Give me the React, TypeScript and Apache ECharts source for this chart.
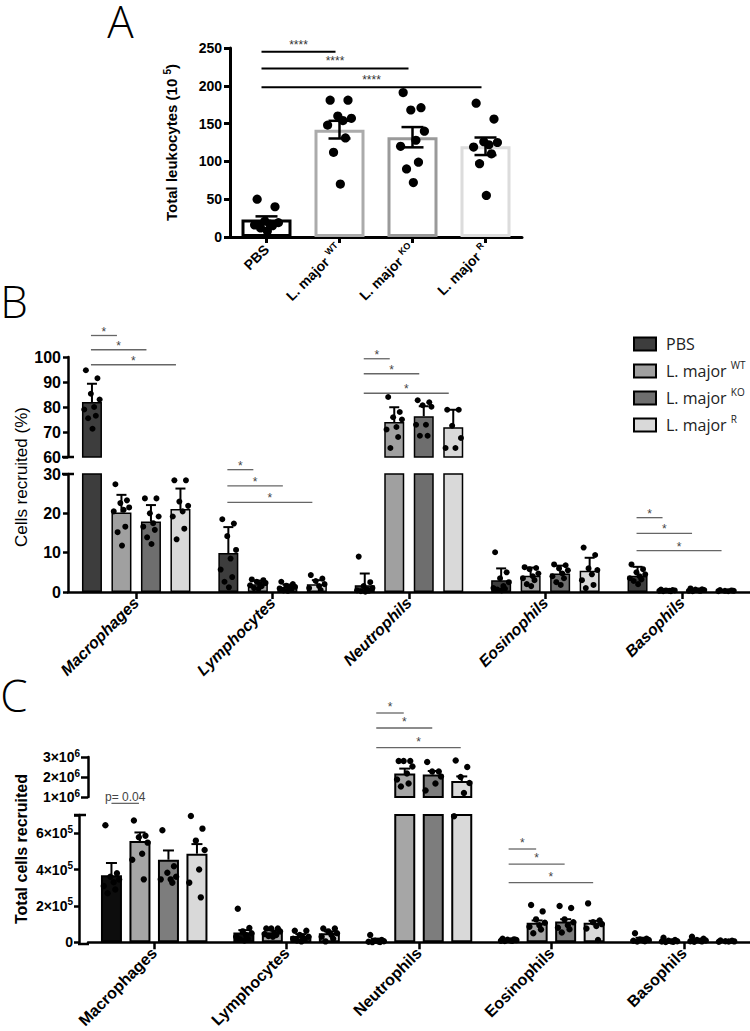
import React, { useEffect, useRef } from 'react';
import * as echarts from 'echarts';

// ---------------- Panel A ----------------
const A_CATS = ['PBS', 'L. major WT', 'L. major KO', 'L. major R'];
const A_MEAN = [23, 142, 132, 120];
const A_SEM = [4.3, 11.7, 13.4, 11.6];
const A_PTS_PBS = [50, 40, 21, 19, 17, 16, 15, 12, 8];
const A_PTS_WT = [181, 181, 160, 157, 154, 148, 131, 112, 70];
const A_PTS_KO = [191, 171, 168, 140, 128, 120, 99, 90, 72];
const A_PTS_R = [177, 156, 126, 125, 122, 119, 110, 97, 55];
const A_SIG_TO = [1, 2, 3];
const A_SIG_Y = [245, 223, 198];
const A_SIG_LABEL = ['****', '****', '****'];

// ---------------- Panel B ----------------
const CELL_TYPES = ['Macrophages', 'Lymphocytes', 'Neutrophils', 'Eosinophils', 'Basophils'];
const GROUPS = ['PBS', 'L. major WT', 'L. major KO', 'L. major R'];

const B_MEAN_PBS = [82, 9.9, 1.7, 3.0, 4.1];
const B_MEAN_WT = [20.2, 2.0, 74.0, 4.1, 0.4];
const B_MEAN_KO = [17.9, 1.3, 76.3, 4.7, 0.5];
const B_MEAN_R = [21.1, 2.0, 71.9, 5.4, 0.3];
const B_SD_PBS = [7.3, 6.6, 3.0, 3.0, 2.3];
const B_SD_WT = [4.5, 0.9, 5.9, 2.1, 0.2];
const B_SD_KO = [4.2, 0.6, 4.0, 2.0, 0.3];
const B_SD_R = [5.2, 1.0, 7.0, 3.3, 0.2];

const B_PTS_PBS = [
  [94.7, 91.5, 85.3, 83, 80, 79, 76.5, 75.5, 71.3],
  [18.5, 17.4, 14.2, 10.7, 8.5, 5.7, 3.8, 2.6, 1.2],
  [9.0, 2.5, 1.5, 1.0, 0.6, 0.4, 0.3, 0.2, 0.1],
  [10.1, 5.0, 3.5, 2.5, 1.5, 1.0, 0.8, 0.6, 0.4],
  [7.0, 5.8, 5.0, 4.5, 4.0, 3.5, 3.2, 2.8, 2.0],
];
const B_PTS_WT = [
  [27.4, 23.3, 22.6, 21.5, 20.9, 20.5, 16.6, 15.2, 11.8],
  [3.2, 3.0, 2.6, 2.3, 2.0, 1.7, 1.5, 1.0, 0.8],
  [84.0, 78.0, 75.9, 75.0, 72.0, 71.0, 68.0, 63.6],
  [6.3, 6.1, 5.8, 4.7, 4.0, 3.5, 3.0, 2.0, 1.5],
  [0.6, 0.5, 0.4, 0.4, 0.3, 0.3, 0.2, 0.2],
];
const B_PTS_KO = [
  [23.8, 23.8, 20.0, 19.2, 17.5, 16.6, 15.8, 13.9, 12.2],
  [2.6, 2.0, 1.6, 1.3, 1.1, 0.9, 0.6, 0.4, 0.3],
  [82.7, 81.9, 80.7, 80.1, 72.9, 72.9, 68.5, 68.5],
  [7.0, 6.8, 6.0, 5.5, 4.7, 4.0, 3.5, 2.5, 1.8],
  [0.9, 0.7, 0.6, 0.5, 0.4, 0.3, 0.3, 0.2],
];
const B_PTS_R = [
  [28.4, 28.4, 23.0, 21.9, 20.5, 19.2, 16.1, 13.4],
  [4.3, 3.4, 2.8, 2.0, 1.5, 1.0, 0.5],
  [78.9, 78.9, 72.5, 67.6, 63.6, 63.6],
  [11.3, 9.4, 6.0, 5.6, 4.5, 3.0, 1.8, 1.0],
  [0.5, 0.4, 0.3, 0.3, 0.2, 0.2],
];
// significance brackets: category, compared group, height, segment (1 = upper)
const B_SIG_CAT = [0, 0, 0, 1, 1, 1, 2, 2, 2, 4, 4, 4];
const B_SIG_TO = [1, 2, 3, 1, 2, 3, 1, 2, 3, 1, 2, 3];
const B_SIG_Y = [108.6, 102.9, 96.9, 31.1, 27.0, 22.8, 99.3, 93.3, 85.5, 18.9, 14.9, 10.5];
const B_SIG_SEG = [1, 1, 1, 0, 0, 0, 1, 1, 1, 0, 0, 0];

// ---------------- Panel C ----------------
const C_MEAN_PBS = [368000, 54000, 10000, 12000, 15000];
const C_MEAN_WT = [557000, 55000, 2170000, 108000, 8000];
const C_MEAN_KO = [454000, 35000, 2130000, 115000, 10000];
const C_MEAN_R = [487000, 50000, 1800000, 108000, 5000];
const C_SD_PBS = [68000, 13000, 10000, 5000, 10000];
const C_SD_WT = [47000, 10000, 250000, 12000, 5000];
const C_SD_KO = [51000, 10000, 170000, 12000, 6000];
const C_SD_R = [53000, 10000, 230000, 10000, 3000];

const C_PTS_PBS = [
  [644000, 380000, 360000, 345000, 330000, 310000, 290000, 270000],
  [184000, 79000, 60000, 50000, 40000, 30000, 20000, 15000, 10000],
  [40000, 12000, 8000, 6000, 4000, 3000, 2000, 1000],
  [20000, 16000, 14000, 12000, 10000, 9000, 8000, 7000],
  [50000, 20000, 15000, 12000, 10000, 8000, 6000, 4000],
];
const C_PTS_WT = [
  [670000, 586000, 578000, 548000, 487000, 454000, 346000],
  [76000, 76000, 76000, 60000, 50000, 45000, 40000, 35000, 30000],
  [2800000, 2800000, 2800000, 2530000, 2170000, 1870000, 1670000, 1530000],
  [205000, 170000, 126000, 108000, 94000, 85000, 70000, 50000],
  [25000, 12000, 8000, 6000, 5000, 4000, 3000, 2000],
];
const C_PTS_KO = [
  [616000, 418000, 382000, 360000, 346000, 346000, 328000],
  [63000, 63000, 40000, 30000, 25000, 20000, 15000, 10000, 5000],
  [2750000, 2280000, 2280000, 2030000, 1670000, 1330000],
  [200000, 189000, 126000, 110000, 94000, 80000, 72000, 54000],
  [30000, 20000, 12000, 10000, 8000, 6000, 5000, 3000],
];
const C_PTS_R = [
  [694000, 625000, 559000, 508000, 400000, 328000, 247000],
  [76000, 76000, 60000, 50000, 40000, 30000, 20000, 5000],
  [2830000, 2500000, 2000000, 1700000, 1200000, 693000],
  [214000, 120000, 110000, 100000, 90000, 76000, 13000],
  [10000, 8000, 6000, 5000, 4000, 3000],
];
const C_SIG_CAT = [0, 2, 2, 2, 3, 3, 3];
const C_SIG_TO = [1, 1, 2, 3, 1, 2, 3];
const C_SIG_Y = [764000, 5200000, 4450000, 3470000, 513000, 430000, 328000];
const C_SIG_SEG = [0, 1, 1, 1, 0, 0, 0];
const C_SIG_LABEL = ['p= 0.04', '*', '*', '*', '*', '*', '*'];

// ---------------- styles ----------------
const FONT = "'Liberation Sans', Arial, Helvetica, sans-serif";
const LETTER_FONT = "'Open Sans', 'DejaVu Sans', sans-serif";
const A_BORDER = ['#000000', '#ababab', '#9a9a9a', '#dcdcdc'];
const B_FILL = ['#3d3d3d', '#a0a0a0', '#6e6e6e', '#d9d9d9'];
const C_FILL = ['#0d0d0d', '#a6a6a6', '#7d7d7d', '#d9d9d9'];
const JITTER = [-0.55, 0.5, -0.1, 0.7, 0.2, -0.7, 0.35, -0.35, 0.05];
const B_BAR_W = 20;
const B_STEP = 29.5;
const C_BAR_W = 21;
const C_STEP = 28.5;

const gOff = (g: number, step: number) => (g - 1.5) * step;

function supFmt(name: string, base: string, sup: string) {
  const m = name.match(/^(L\. major) (\S+)$/);
  return m ? `{${base}|${m[1]} }{${sup}|${m[2]}}` : `{${base}|${name}}`;
}

function pointSeries(name: string, xi: number, yi: number, pts: number[][], lo: number, hi: number, dx: number, spread: number, r: number) {
  const data: number[][] = [];
  pts.forEach((arr, ci) => arr.forEach((v, k) => { if (v >= lo && v <= hi) data.push([ci, v, k]); }));
  return {
    type: 'custom', name, xAxisIndex: xi, yAxisIndex: yi, clip: false, z: 4, silent: true,
    data,
    renderItem: (params: any, api: any) => {
      const c = api.coord([api.value(0), api.value(1)]);
      const k = api.value(2) as number;
      return {
        type: 'circle',
        shape: { cx: c[0] + dx + JITTER[k % JITTER.length] * spread, cy: c[1], r },
        style: { fill: '#000' },
      };
    },
  };
}

function errSeries(name: string, xi: number, yi: number, means: number[], errs: number[], lo: number, hi: number, dx: number, capW: number, lw: number, both: boolean) {
  const data: number[][] = [];
  means.forEach((m, ci) => { if (m >= lo && m <= hi) data.push([ci, m, errs[ci]]); });
  return {
    type: 'custom', name, xAxisIndex: xi, yAxisIndex: yi, clip: false, z: 3, silent: true,
    data,
    renderItem: (params: any, api: any) => {
      const m = api.value(1) as number;
      const e = api.value(2) as number;
      const top = api.coord([api.value(0), m + e]);
      const bot = api.coord([api.value(0), both ? m - e : m]);
      const x = top[0] + dx;
      const st = { stroke: '#000', lineWidth: lw };
      const children: any[] = [
        { type: 'line', shape: { x1: x, y1: top[1], x2: x, y2: bot[1] }, style: st },
        { type: 'line', shape: { x1: x - capW / 2, y1: top[1], x2: x + capW / 2, y2: top[1] }, style: st },
      ];
      if (both) children.push({ type: 'line', shape: { x1: x - capW / 2, y1: bot[1], x2: x + capW / 2, y2: bot[1] }, style: st });
      return { type: 'group', children };
    },
  };
}

type SigItem = { c1: number; g1: number; c2: number; g2: number; y: number; label: string };

function sigSeries(name: string, xi: number, yi: number, items: SigItem[], o: any) {
  return {
    type: 'custom', name, xAxisIndex: xi, yAxisIndex: yi, clip: false, z: 6, silent: true,
    data: items.map((it) => [it.c1, it.y]),
    renderItem: (params: any, api: any) => {
      const it = items[params.dataIndex];
      const p1 = api.coord([it.c1, it.y]);
      const p2 = api.coord([it.c2, it.y]);
      const x1 = p1[0] + (it.g1 - (o.nG - 1) / 2) * o.step + o.dx1;
      const x2 = p2[0] + (it.g2 - (o.nG - 1) / 2) * o.step + o.dx2;
      return {
        type: 'group',
        children: [
          { type: 'line', shape: { x1, y1: p1[1], x2, y2: p1[1] }, style: { stroke: o.lineColor, lineWidth: o.lineW } },
          {
            type: 'text', x: (x1 + x2) / 2, y: p1[1] - o.textDy,
            style: { text: it.label, align: 'center', verticalAlign: 'middle', fontSize: o.fontSize, fontFamily: FONT, fill: o.textColor },
          },
        ],
      };
    },
  };
}

function valueAxis(gridIndex: number, min: number, max: number, interval: number, extra: any = {}) {
  return {
    gridIndex, type: 'value', min, max, interval,
    axisLine: { show: true, lineStyle: { color: '#000', width: 2.5 } },
    axisTick: { show: true, length: 5, lineStyle: { color: '#000', width: 2.5 } },
    splitLine: { show: false },
    axisLabel: { color: '#000', fontFamily: FONT, fontWeight: 'bold', fontSize: 16, margin: 7 },
    ...extra,
  };
}

function catAxis(gridIndex: number, data: string[], show: boolean, labelExtra: any = {}) {
  return {
    gridIndex, type: 'category', data, show,
    axisLine: { show, onZero: false, lineStyle: { color: '#000', width: 2.5 } },
    axisTick: { show, alignWithLabel: true, length: 7, lineStyle: { color: '#000', width: 2.5 } },
    splitLine: { show: false },
    axisLabel: { show, interval: 0, rotate: 45, color: '#000', fontFamily: FONT, fontWeight: 'bold', fontSize: 16, margin: 8, ...labelExtra },
  };
}

function cFmt(lowerOnly: boolean) {
  return (v: number) => {
    if (v === 0) return '{m|0}';
    if (lowerOnly && v % 200000 !== 0) return '';
    const e = Math.floor(Math.log10(v) + 1e-9);
    const mant = v / Math.pow(10, e);
    if (Math.abs(mant - Math.round(mant)) > 1e-6) return '';
    return `{m|${Math.round(mant)}×10}{s|${e}}`;
  };
}

const C_RICH = {
  m: { fontFamily: FONT, fontWeight: 'bold', fontSize: 14, color: '#000', lineHeight: 18 },
  s: { fontFamily: FONT, fontWeight: 'bold', fontSize: 10, color: '#000', lineHeight: 9, verticalAlign: 'top' },
};

function buildOption() {
  const series: any[] = [];

  // ---- A ----
  series.push({
    type: 'bar', name: 'A-bars', xAxisIndex: 0, yAxisIndex: 0, barWidth: 50, z: 2, silent: true,
    data: A_MEAN.map((v, i) => ({ value: v, itemStyle: { color: '#fff', borderColor: A_BORDER[i], borderWidth: 3 } })),
  });
  series.push(errSeries('A-err', 0, 0, A_MEAN, A_SEM, -Infinity, Infinity, 0, 22, 2.5, true));
  series.push(pointSeries('A-pts', 0, 0, [A_PTS_PBS, A_PTS_WT, A_PTS_KO, A_PTS_R], -Infinity, Infinity, 0, 17, 4.6));
  series.push(sigSeries('A-sig', 0, 0,
    A_SIG_TO.map((to, i) => ({ c1: 0, g1: 0, c2: to, g2: 0, y: A_SIG_Y[i], label: A_SIG_LABEL[i] })),
    { nG: 1, step: 0, dx1: -5, dx2: -4, lineColor: '#000', lineW: 2, textDy: 7, fontSize: 12, textColor: '#333' }));

  // ---- B ----
  const bMeans = [B_MEAN_PBS, B_MEAN_WT, B_MEAN_KO, B_MEAN_R];
  const bSds = [B_SD_PBS, B_SD_WT, B_SD_KO, B_SD_R];
  const bPts = [B_PTS_PBS, B_PTS_WT, B_PTS_KO, B_PTS_R];
  const bSegs = [
    { xi: 2, yi: 2, lo: 0, hi: 30, tag: 'lo' },
    { xi: 1, yi: 1, lo: 60, hi: 100, tag: 'up' },
  ];
  bSegs.forEach((sg, si) => {
    for (let g = 0; g < 4; g++) {
      series.push({
        type: 'bar', name: si === 0 ? GROUPS[g] : `B-up-${g}`, xAxisIndex: sg.xi, yAxisIndex: sg.yi,
        barWidth: B_BAR_W, barGap: `${((B_STEP - B_BAR_W) / B_BAR_W) * 100}%`, clip: true, z: 2, silent: true,
        itemStyle: { color: B_FILL[g], borderColor: '#000', borderWidth: 1.5 },
        data: bMeans[g].map((v) => (v >= sg.lo ? v : '-')),
      });
      series.push(errSeries(`B-err-${sg.tag}-${g}`, sg.xi, sg.yi, bMeans[g], bSds[g], sg.lo, sg.hi, gOff(g, B_STEP), 10, 2, false));
      series.push(pointSeries(`B-pts-${sg.tag}-${g}`, sg.xi, sg.yi, bPts[g], sg.lo, sg.hi, gOff(g, B_STEP), 11, 3));
    }
    const items: SigItem[] = [];
    B_SIG_CAT.forEach((c, i) => {
      if (B_SIG_SEG[i] === si) items.push({ c1: c, g1: 0, c2: c, g2: B_SIG_TO[i], y: B_SIG_Y[i], label: '*' });
    });
    series.push(sigSeries(`B-sig-${sg.tag}`, sg.xi, sg.yi, items,
      { nG: 4, step: B_STEP, dx1: -1, dx2: -4.5, lineColor: '#666', lineW: 1.3, textDy: 4, fontSize: 12, textColor: '#444' }));
  });

  // ---- C ----
  const cMeans = [C_MEAN_PBS, C_MEAN_WT, C_MEAN_KO, C_MEAN_R];
  const cSds = [C_SD_PBS, C_SD_WT, C_SD_KO, C_SD_R];
  const cPts = [C_PTS_PBS, C_PTS_WT, C_PTS_KO, C_PTS_R];
  const cSegs = [
    { xi: 4, yi: 4, lo: 0, hi: 700000, tag: 'lo' },
    { xi: 3, yi: 3, lo: 1000000, hi: 3000000, tag: 'up' },
  ];
  cSegs.forEach((sg, si) => {
    for (let g = 0; g < 4; g++) {
      series.push({
        type: 'bar', name: `C-${sg.tag}-${g}`, xAxisIndex: sg.xi, yAxisIndex: sg.yi,
        barWidth: C_BAR_W, barGap: `${((C_STEP - C_BAR_W) / C_BAR_W) * 100}%`, clip: true, z: 2, silent: true,
        itemStyle: { color: C_FILL[g], borderColor: '#000', borderWidth: 2 },
        data: cMeans[g].map((v) => (v >= sg.lo ? v : '-')),
      });
      series.push(errSeries(`C-err-${sg.tag}-${g}`, sg.xi, sg.yi, cMeans[g], cSds[g], sg.lo, sg.hi, gOff(g, C_STEP), 11, 2, false));
      series.push(pointSeries(`C-pts-${sg.tag}-${g}`, sg.xi, sg.yi, cPts[g], sg.lo, sg.hi, gOff(g, C_STEP), 11, 3.2));
    }
    const items: SigItem[] = [];
    C_SIG_CAT.forEach((c, i) => {
      if (C_SIG_SEG[i] === si) items.push({ c1: c, g1: 0, c2: c, g2: C_SIG_TO[i], y: C_SIG_Y[i], label: C_SIG_LABEL[i] });
    });
    series.push(sigSeries(`C-sig-${sg.tag}`, sg.xi, sg.yi, items,
      { nG: 4, step: C_STEP, dx1: 0, dx2: -1, lineColor: '#666', lineW: 1.3, textDy: 6, fontSize: 12, textColor: '#444' }));
  });

  const aRich = {
    b: { fontFamily: FONT, fontWeight: 'bold', fontSize: 14, color: '#000', lineHeight: 18 },
    s: { fontFamily: FONT, fontWeight: 'bold', fontSize: 9, color: '#000', lineHeight: 8, verticalAlign: 'top' },
  };

  const letterStyle = (text: string) => ({
    text, fontSize: 44, lineHeight: 36, fontFamily: LETTER_FONT, fontWeight: 300, fill: '#000',
    align: 'center', verticalAlign: 'middle',
  });

  return {
    animation: false,
    backgroundColor: '#fff',
    grid: [
      { left: 230, top: 48, width: 292, height: 189 },
      { left: 68, top: 357, width: 682, height: 100 },
      { left: 68, top: 474, width: 682, height: 118 },
      { left: 88, top: 757, width: 662, height: 40 },
      { left: 88, top: 815, width: 662, height: 129 },
    ],
    xAxis: [
      {
        ...catAxis(0, A_CATS, true),
        axisLine: { show: true, onZero: false, lineStyle: { color: '#000', width: 3 } },
        axisTick: { show: true, alignWithLabel: true, length: 6, lineStyle: { color: '#000', width: 3 } },
        axisLabel: {
          interval: 0, rotate: 45, margin: 10, color: '#000',
          formatter: (v: string) => supFmt(v, 'b', 's'), rich: aRich,
        },
      },
      catAxis(1, CELL_TYPES, false),
      catAxis(2, CELL_TYPES, true, { fontStyle: 'italic' }),
      catAxis(3, CELL_TYPES, false),
      catAxis(4, CELL_TYPES, true),
    ],
    yAxis: [
      valueAxis(0, 0, 250, 50, {
        axisLine: { show: true, lineStyle: { color: '#000', width: 3 } },
        axisTick: { show: true, length: 6, lineStyle: { color: '#000', width: 3 } },
        axisLabel: { color: '#000', fontFamily: FONT, fontWeight: 'bold', fontSize: 14, margin: 8 },
      }),
      valueAxis(1, 60, 100, 10),
      valueAxis(2, 0, 30, 10),
      valueAxis(3, 1000000, 3000000, 1000000, {
        axisTick: { show: true, length: 7, lineStyle: { color: '#000', width: 2.5 } },
        axisLabel: { color: '#000', margin: 8, formatter: cFmt(false), rich: C_RICH },
      }),
      valueAxis(4, 0, 700000, 200000, {
        offset: 9,
        axisLabel: { color: '#000', margin: 6, formatter: cFmt(true), rich: C_RICH },
      }),
    ],
    legend: {
      left: 633, top: 336, orient: 'vertical', padding: 0,
      itemWidth: 22, itemHeight: 13, itemGap: 8, icon: 'rect', selectedMode: false,
      data: GROUPS,
      formatter: (n: string) => supFmt(n, 't', 's'),
      textStyle: {
        padding: [0, 0, 0, 5],
        rich: {
          t: { fontFamily: LETTER_FONT, fontSize: 16, color: '#222', lineHeight: 22 },
          s: { fontFamily: LETTER_FONT, fontSize: 10, color: '#222', lineHeight: 10, verticalAlign: 'top' },
        },
      },
    },
    graphic: [
      { type: 'text', x: 120.5, y: 21, style: letterStyle('A') },
      { type: 'text', x: 14, y: 301, style: letterStyle('B') },
      { type: 'text', x: 14, y: 695, style: letterStyle('C') },
      {
        type: 'text', x: 171.5, y: 142.5, rotation: Math.PI / 2,
        style: {
          text: '{b|Total leukocytes (10 }{s|5}{b|)}', align: 'center', verticalAlign: 'middle',
          rich: {
            b: { fontFamily: FONT, fontWeight: 'bold', fontSize: 15, fill: '#000', lineHeight: 18 },
            s: { fontFamily: FONT, fontWeight: 'bold', fontSize: 10, fill: '#000', lineHeight: 9, verticalAlign: 'top' },
          },
        },
      },
      { type: 'text', x: 21, y: 477, rotation: Math.PI / 2, style: { text: 'Cells recruited (%)', fontFamily: FONT, fontSize: 17, fill: '#000', align: 'center', verticalAlign: 'middle' } },
      { type: 'text', x: 21, y: 849, rotation: Math.PI / 2, style: { text: 'Total cells recruited', fontFamily: FONT, fontWeight: 'bold', fontSize: 16, fill: '#000', align: 'center', verticalAlign: 'middle' } },
      // axis break caps and C x-axis extension
      { type: 'line', shape: { x1: 62, y1: 457, x2: 74, y2: 457 }, style: { stroke: '#000', lineWidth: 2.5 } },
      { type: 'line', shape: { x1: 62, y1: 474, x2: 74, y2: 474 }, style: { stroke: '#000', lineWidth: 2.5 } },
      { type: 'line', shape: { x1: 74, y1: 815, x2: 86, y2: 815 }, style: { stroke: '#000', lineWidth: 2.5 } },
      { type: 'line', shape: { x1: 78, y1: 944, x2: 89, y2: 944 }, style: { stroke: '#000', lineWidth: 2.5 } },
    ],
    series,
  };
}

export default function App() {
  const ref = useRef<HTMLDivElement>(null);
  useEffect(() => {
    const chart = echarts.init(ref.current as HTMLDivElement, null, { renderer: 'svg' });
    chart.setOption(buildOption() as any);
    return () => chart.dispose();
  }, []);
  return (
    <div
      ref={ref}
      style={{ position: 'absolute', left: 0, top: 0, width: 750, height: 1031, background: '#fff' }}
    />
  );
}
